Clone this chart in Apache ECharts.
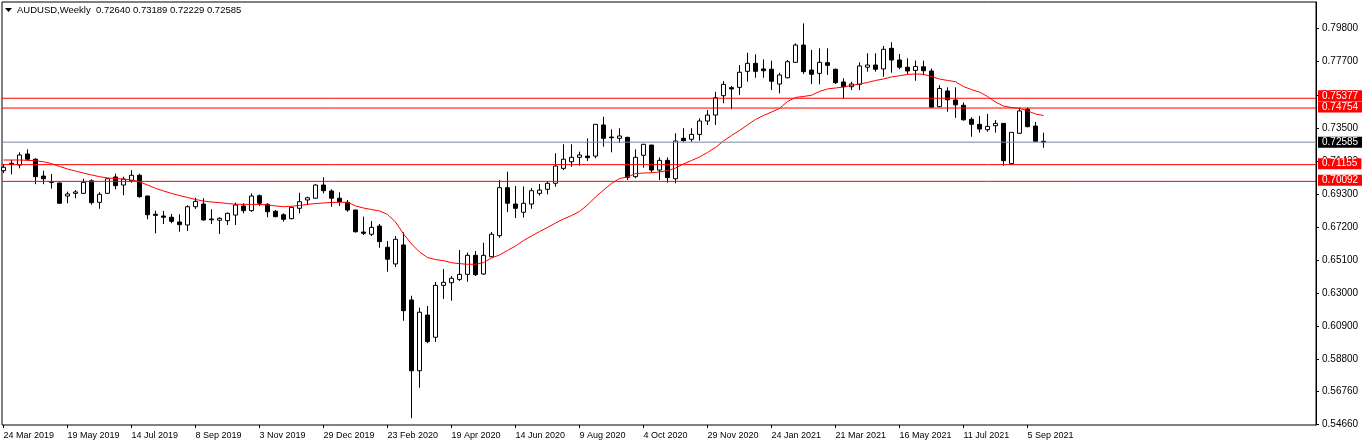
<!DOCTYPE html>
<html><head><meta charset="utf-8">
<script src="https://cdn.jsdelivr.net/npm/echarts@6/dist/echarts.min.js"></script>
<style>html,body{margin:0;padding:0;background:#fff}#c{width:1362px;height:448px}</style>
</head><body><div id="c"></div>
<script>
const dateTicks = ['24 Mar 2019','19 May 2019','14 Jul 2019','8 Sep 2019','3 Nov 2019','29 Dec 2019','23 Feb 2020','19 Apr 2020','14 Jun 2020','9 Aug 2020','4 Oct 2020','29 Nov 2020','24 Jan 2021','21 Mar 2021','16 May 2021','11 Jul 2021','5 Sep 2021'];
const priceTicks = [0.79800,0.77700,0.75600,0.73500,0.71400,0.69300,0.67200,0.65100,0.63000,0.60900,0.58800,0.56760,0.54660];
const openP = [0.7077,0.7118,0.7113,0.7183,0.7150,0.7043,0.7007,0.6999,0.6916,0.6933,0.6933,0.7013,0.6876,0.6933,0.7037,0.6986,0.7013,0.7048,0.6916,0.6800,0.6789,0.6781,0.6751,0.6732,0.6848,0.6865,0.6770,0.6762,0.6759,0.6795,0.6853,0.6823,0.6918,0.6863,0.6819,0.6797,0.6772,0.6838,0.6891,0.6902,0.6986,0.6948,0.6902,0.6876,0.6827,0.6687,0.6673,0.6725,0.6590,0.6484,0.6605,0.6255,0.5805,0.6159,0.6018,0.6348,0.6365,0.6386,0.6418,0.6539,0.6420,0.6530,0.6664,0.6969,0.6865,0.6813,0.6865,0.6933,0.6959,0.6997,0.7092,0.7134,0.7162,0.7170,0.7170,0.7368,0.7291,0.7283,0.7289,0.7039,0.7175,0.7240,0.7081,0.7143,0.7026,0.7283,0.7277,0.7308,0.7393,0.7431,0.7554,0.7605,0.7607,0.7709,0.7760,0.7724,0.7722,0.7628,0.7668,0.7766,0.7876,0.7717,0.7696,0.7764,0.7722,0.7641,0.7611,0.7626,0.7735,0.7749,0.7724,0.7855,0.7781,0.7735,0.7715,0.7738,0.7711,0.7484,0.7584,0.7527,0.7493,0.7404,0.7372,0.7338,0.7363,0.7378,0.7122,0.7315,0.7468,0.7361,0.72640];
const highP = [0.7120,0.7145,0.7194,0.7213,0.7156,0.7077,0.7056,0.7001,0.6944,0.6954,0.7026,0.7022,0.6940,0.7029,0.7058,0.7039,0.7081,0.7058,0.6918,0.6823,0.6821,0.6802,0.6800,0.6857,0.6905,0.6902,0.6832,0.6781,0.6811,0.6874,0.6870,0.6933,0.6926,0.6870,0.6827,0.6806,0.6848,0.6937,0.6912,0.6991,0.7035,0.6959,0.6940,0.6891,0.6829,0.6785,0.6757,0.6738,0.6630,0.6662,0.6685,0.6282,0.6206,0.6217,0.6369,0.6452,0.6407,0.6573,0.6556,0.6566,0.6619,0.6687,0.7018,0.7071,0.6980,0.6977,0.6967,0.6992,0.7012,0.7188,0.7245,0.7245,0.7198,0.7283,0.7374,0.7420,0.7340,0.7347,0.7293,0.7213,0.7247,0.7242,0.7162,0.7162,0.7315,0.7347,0.7347,0.7410,0.7463,0.7579,0.7647,0.7616,0.7749,0.7827,0.7817,0.7785,0.7777,0.7700,0.7781,0.7887,0.8014,0.7845,0.7855,0.7855,0.7726,0.7665,0.7643,0.7766,0.7824,0.7824,0.7870,0.7894,0.7819,0.7792,0.7778,0.7777,0.7727,0.7621,0.7607,0.7607,0.7511,0.7417,0.7425,0.7438,0.7399,0.7380,0.7323,0.7478,0.7480,0.7387,0.73189];
const lowP = [0.7062,0.7054,0.7092,0.7141,0.6991,0.6991,0.6963,0.6867,0.6870,0.6902,0.6930,0.6861,0.6835,0.6930,0.6959,0.6921,0.7001,0.6905,0.6768,0.6679,0.6738,0.6743,0.6689,0.6694,0.6834,0.6759,0.6738,0.6675,0.6732,0.6732,0.6806,0.6816,0.6853,0.6781,0.6781,0.6753,0.6768,0.6806,0.6859,0.6899,0.6933,0.6848,0.6853,0.6816,0.6683,0.6668,0.6662,0.6587,0.6435,0.6465,0.6123,0.5503,0.5697,0.5980,0.5988,0.6261,0.6250,0.6376,0.6371,0.6407,0.6414,0.6526,0.6651,0.6814,0.6776,0.6779,0.6835,0.6919,0.6927,0.6975,0.7081,0.7102,0.7109,0.7139,0.7156,0.7230,0.7194,0.7255,0.7018,0.7029,0.7096,0.7064,0.7018,0.7001,0.6997,0.7261,0.7261,0.7268,0.7368,0.7368,0.7506,0.7468,0.7558,0.7643,0.7668,0.7668,0.7590,0.7569,0.7665,0.7764,0.7692,0.7628,0.7626,0.7686,0.7628,0.7537,0.7590,0.7590,0.7707,0.7707,0.7675,0.7700,0.7722,0.7692,0.7649,0.7684,0.7479,0.7482,0.7452,0.7413,0.7395,0.7293,0.7319,0.7325,0.7319,0.7109,0.7116,0.7313,0.7353,0.7262,0.72229];
const closeP = [0.7099,0.7124,0.7177,0.7150,0.7039,0.7026,0.7003,0.6870,0.6929,0.6942,0.7003,0.6874,0.6927,0.7026,0.6982,0.7024,0.7048,0.6912,0.6797,0.6793,0.6781,0.6755,0.6734,0.6848,0.6882,0.6764,0.6765,0.6774,0.6806,0.6859,0.6823,0.6916,0.6870,0.6816,0.6785,0.6768,0.6844,0.6880,0.6905,0.6986,0.6950,0.6902,0.6880,0.6827,0.6689,0.6679,0.6717,0.6626,0.6514,0.6641,0.6187,0.5805,0.6177,0.5990,0.6348,0.6367,0.6393,0.6418,0.6539,0.6416,0.6539,0.6673,0.6969,0.6870,0.6838,0.6870,0.6950,0.6954,0.6997,0.7107,0.7150,0.7162,0.7177,0.7160,0.7372,0.7283,0.7287,0.7298,0.7035,0.7162,0.7245,0.7081,0.7143,0.7033,0.7266,0.7268,0.7308,0.7393,0.7431,0.7541,0.7626,0.7597,0.7703,0.7760,0.7709,0.7713,0.7646,0.7686,0.7770,0.7876,0.7707,0.7690,0.7766,0.7747,0.7637,0.7611,0.7628,0.7743,0.7749,0.7722,0.7849,0.7781,0.7735,0.7711,0.7740,0.7713,0.7481,0.7600,0.7528,0.7496,0.7401,0.7372,0.7342,0.7359,0.7378,0.7141,0.7321,0.7457,0.7357,0.7264,0.72585];
const maLine = [0.7145,0.7145,0.7145,0.7143,0.7140,0.7134,0.7122,0.7104,0.7088,0.7075,0.7062,0.7050,0.7039,0.7031,0.7027,0.7024,0.7018,0.7007,0.6986,0.6965,0.6948,0.6933,0.6919,0.6907,0.6894,0.6884,0.6878,0.6874,0.6868,0.6864,0.6863,0.6863,0.6863,0.6859,0.6853,0.6848,0.6851,0.6856,0.6863,0.6868,0.6872,0.6875,0.6876,0.6876,0.6853,0.6840,0.6830,0.6821,0.6799,0.6751,0.6675,0.6611,0.6560,0.6525,0.6512,0.6505,0.6492,0.6486,0.6482,0.6482,0.6493,0.6522,0.6541,0.6570,0.6598,0.6633,0.6662,0.6690,0.6716,0.6744,0.6770,0.6792,0.6818,0.6859,0.6910,0.6954,0.6996,0.7027,0.7037,0.7059,0.7062,0.7064,0.7069,0.7078,0.7094,0.7120,0.7142,0.7164,0.7193,0.7225,0.7266,0.7301,0.7333,0.7368,0.7403,0.7428,0.7450,0.7473,0.7517,0.7543,0.7549,0.7557,0.7581,0.7597,0.7603,0.7609,0.7619,0.7628,0.7638,0.7651,0.7660,0.7673,0.7681,0.7689,0.7692,0.7690,0.7676,0.7660,0.7651,0.7643,0.7612,0.7593,0.7577,0.7549,0.7514,0.7488,0.7479,0.7474,0.7457,0.7438,0.7428];
const redLevels = [0.75377, 0.74754, 0.71155, 0.70092];
const bidLevel = 0.72585;
const titleText = 'AUDUSD,Weekly  0.72640 0.73189 0.72229 0.72585';

const SLOTS = 164;
const cats = []; for (let i = 0; i < SLOTS; i++) cats.push(String(i));
const candles = openP.map((o, i) => [o, closeP[i], lowP[i], highP[i]]);
const yMin = 0.54600, yMax = 0.81498;
const FONT = 'Liberation Sans';

const levelSeries = (v, col, bg, dy) => ({
  type: 'line', xAxisIndex: 1, yAxisIndex: 1, data: [[0, v], [1, v]],
  symbol: 'none', silent: true, z: 4,
  lineStyle: { color: col, width: 1 },
  endLabel: { show: true, formatter: () => v.toFixed(5), distance: 2, offset: [0, dy || 0],
    backgroundColor: bg, color: '#fff', fontSize: 10, fontFamily: FONT,
    padding: [1, 4, 0, 4], lineHeight: 10 }
});

const chart = echarts.init(document.getElementById('c'), null, { renderer: 'canvas' });
chart.setOption({
  animation: false,
  backgroundColor: '#fff',
  title: { text: titleText, left: 17, top: 5, padding: 0,
    textStyle: { fontSize: 9.5, fontWeight: 'normal', fontFamily: FONT, color: '#000' } },
  graphic: [{ type: 'polygon', shape: { points: [[5, 8], [12, 8], [8.5, 12]] }, style: { fill: '#000' } }],
  grid: [
    { left: -0.5, top: 2, width: SLOTS * 8, bottom: 23, outerBoundsMode: 'none', containLabel: false },
    { left: 2, top: 2, right: 46, bottom: 23, show: true, borderColor: '#000', borderWidth: 1, backgroundColor: 'transparent', outerBoundsMode: 'none', containLabel: false }
  ],
  xAxis: [
    { type: 'category', gridIndex: 0, data: cats, boundaryGap: true,
      axisLine: { show: false },
      axisTick: { show: true, alignWithLabel: true, length: 3, lineStyle: { color: '#000' },
        interval: (idx) => idx % 8 === 0 && idx / 8 < dateTicks.length },
      axisLabel: { show: true, align: 'left', margin: 6, fontSize: 9, fontFamily: FONT, color: '#000',
        interval: (idx) => idx % 8 === 0 && idx / 8 < dateTicks.length,
        formatter: (v, idx) => dateTicks[idx / 8] || '' },
      splitLine: { show: false } },
    { type: 'value', gridIndex: 1, min: 0, max: 1, show: false }
  ],
  yAxis: [
    { type: 'value', gridIndex: 0, min: yMin, max: yMax, show: false,
      axisLine: { show: false, onZero: false }, axisTick: { show: false }, axisLabel: { show: false }, splitLine: { show: false } },
    { type: 'value', gridIndex: 1, min: yMin, max: yMax, position: 'right',
      axisLine: { show: true, onZero: false, lineStyle: { color: '#000' } },
      axisTick: { show: true, length: 3, customValues: priceTicks, lineStyle: { color: '#000' } },
      axisLabel: { show: true, margin: 6, fontSize: 10, fontFamily: FONT, color: '#000',
        customValues: priceTicks, formatter: (v) => v.toFixed(5) },
      splitLine: { show: false } }
  ],
  series: [
    { type: 'candlestick', xAxisIndex: 0, yAxisIndex: 0, data: candles, barWidth: 5, z: 2,
      itemStyle: { color: '#ffffff', color0: '#000000', borderColor: '#000000', borderColor0: '#000000', borderWidth: 1 } },
    { type: 'line', xAxisIndex: 0, yAxisIndex: 0, data: maLine, symbol: 'none', z: 3, silent: true,
      lineStyle: { color: '#ff0000', width: 1 } },
    levelSeries(bidLevel, '#778899', '#000000', 0),
    levelSeries(redLevels[0], '#ff0000', '#ff0000', -2.5),
    levelSeries(redLevels[1], '#ff0000', '#ff0000', -1),
    levelSeries(redLevels[2], '#ff0000', '#ff0000', -1),
    levelSeries(redLevels[3], '#ff0000', '#ff0000', -1)
  ]
});
</script></body></html>
